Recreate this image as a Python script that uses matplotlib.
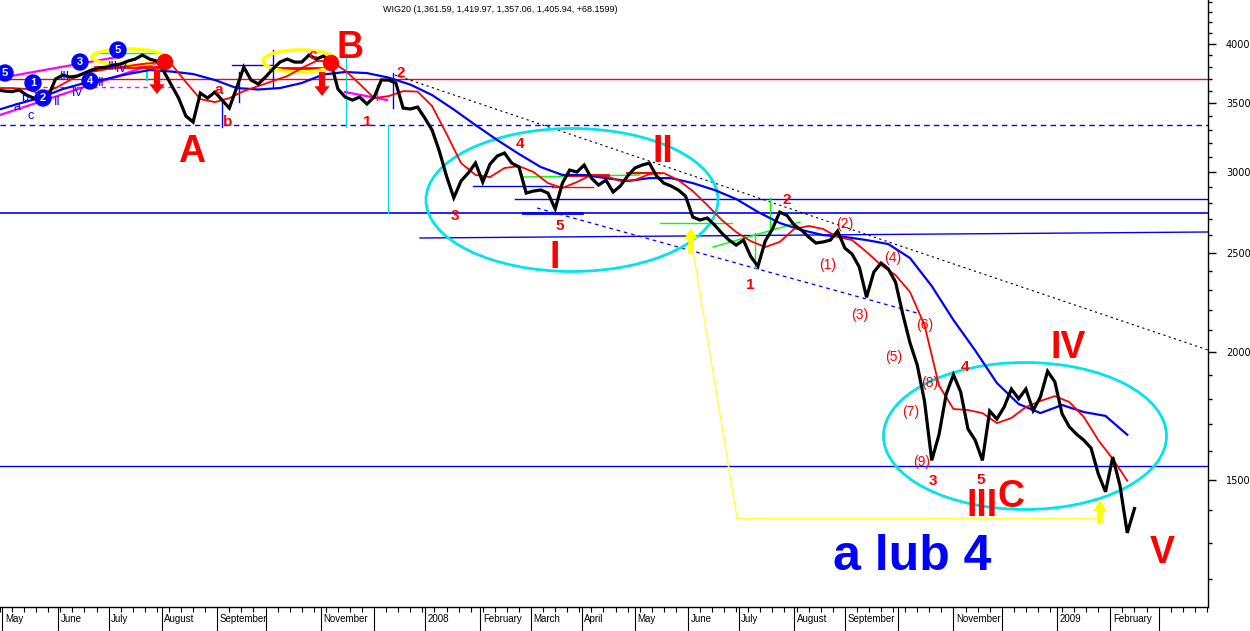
import matplotlib
matplotlib.use("Agg")
import matplotlib.pyplot as plt
import matplotlib.transforms as mtransforms
import numpy as np
import pandas as pd
from matplotlib.patches import Ellipse
from matplotlib.ticker import FixedLocator, FixedFormatter, NullFormatter

ORIGIN = "2007-04-27"   # x axis counts trading sessions from this day

# WIG20 close, every 3rd session from ORIGIN
close = [3607, 3598, 3594, 3607, 3566, 3542, 3534, 3558, 3697, 3730,
         3714, 3722, 3747, 3773, 3790, 3798, 3815, 3824, 3850, 3867,
         3902, 3867, 3850, 3756, 3647, 3542, 3402, 3356, 3582, 3542,
         3590, 3526, 3463, 3623, 3798, 3689, 3656, 3714, 3781, 3841,
         3867, 3841, 3841, 3902, 3867, 3893, 3841, 3615, 3550, 3526,
         3550, 3495, 3550, 3689, 3689, 3664, 3463, 3456, 3471, 3386,
         3296, 3144, 2970, 2830, 2939, 2992, 3060, 2932, 3053, 3109,
         3130, 3060, 3033, 2860, 2873, 2880, 2860, 2760, 2925, 3012,
         2999, 3046, 2958, 2912, 2945, 2867, 2906, 2972, 3026, 3046,
         3060, 2972, 2925, 2906, 2880, 2841, 2710, 2692, 2704, 2662,
         2614, 2573, 2544, 2573, 2480, 2425, 2567, 2638, 2740, 2720,
         2662, 2632, 2591, 2556, 2562, 2573, 2626, 2527, 2493, 2421,
         2262, 2394, 2443, 2411, 2341, 2178, 2041, 1942, 1791, 1567,
         1660, 1819, 1900, 1828, 1682, 1640, 1567, 1751, 1720, 1767,
         1840, 1800, 1840, 1753, 1807, 1915, 1870, 1740, 1690, 1662,
         1640, 1611, 1520, 1460, 1579, 1480, 1331, 1406]

# red (short) moving average, every 6th session
ma_red = [3623, 3623, 3615, 3574, 3623, 3689, 3747, 3768, 3790, 3807,
          3824, 3837, 3824, 3672, 3534, 3510, 3542, 3598, 3639, 3680,
          3722, 3790, 3850, 3850, 3768, 3656, 3542, 3558, 3598, 3594,
          3479, 3267, 3060, 2979, 2965, 3026, 3039, 2999, 2925, 2893,
          2932, 2979, 2972, 2939, 2945, 2985, 2992, 2945, 2873, 2784,
          2692, 2620, 2567, 2533, 2562, 2638, 2656, 2638, 2591, 2573,
          2505, 2432, 2378, 2289, 2125, 1855, 1759, 1755, 1743, 1704,
          1724, 1767, 1791, 1811, 1787, 1728, 1640, 1572, 1497]

# blue (long) moving average, every 9th session
ma_blue = [3448, 3499, 3546, 3615, 3664, 3697, 3739, 3773, 3760, 3739,
           3689, 3623, 3611, 3623, 3664, 3735, 3756, 3747, 3709, 3651,
           3566, 3452, 3333, 3223, 3123, 3033, 2979, 2979, 2958, 2939,
           2958, 2958, 2925, 2880, 2822, 2741, 2674, 2632, 2602, 2591,
           2573, 2550, 2471, 2320, 2149, 2007, 1865, 1779, 1743, 1775,
           1747, 1732, 1660]

# one label per month start (May 2007 .. Mar 2009), blank where the chart had no room
month_labels = ["May", "June", "July", "August", "September", "", "November", "",
                "2008", "February", "March", "April", "May", "June", "July",
                "August", "September", "", "November", "", "2009", "February", ""]

y_major = [1500, 2000, 2500, 3000, 3500, 4000]
y_minor = [v for v in range(1200, 4500, 100) if v not in y_major]

TITLE = "WIG20 (1,361.59, 1,419.97, 1,357.06, 1,405.94, +68.1599)"
FONT = "Liberation Sans"
CYAN = "#00e4ea"


def sessions(dates):
    return np.busday_count(np.datetime64(ORIGIN), np.asarray(dates, dtype="datetime64[D]"))


def every(n, step):
    return sessions(pd.bdate_range(ORIGIN, periods=n, freq=f"{step}B").values)


fig = plt.figure(figsize=(12.5, 6.31), dpi=100)
ax = fig.add_axes([0, 24 / 631, 1208 / 1250, 607 / 631])


# annotation layout, measured on the 1208x607 plot box of the original picture
def L(x, y):
    return x / 1208, 1 - y / 607


def txt(x, y, s, size=11, color="red", weight="bold"):
    ax.text(*L(x, y), s, transform=ax.transAxes, ha="center", va="center",
            fontsize=size, color=color, fontweight=weight, family=FONT, zorder=8)


def seg(p, q, color, lw=1.0, ls="-", z=2):
    (x0, y0), (x1, y1) = L(*p), L(*q)
    ax.plot([x0, x1], [y0, y1], transform=ax.transAxes, color=color, lw=lw, ls=ls, zorder=z)


def ell(cx, cy, w, h, color, lw=2.0):
    ax.add_patch(Ellipse(L(cx, cy), w / 1208, h / 607, transform=ax.transAxes,
                         fill=False, ec=color, lw=lw, zorder=4))


def dot(cx, cy, r, color):
    ax.add_patch(Ellipse(L(cx, cy), 2 * r / 1208, 2 * r / 607, transform=ax.transAxes,
                         fc=color, ec=color, zorder=7))


def arrow(x, y_tail, y_head, color, hw=1.1, tw=0.45, hl=0.7):
    ax.annotate("", xy=L(x, y_head), xytext=L(x, y_tail),
                xycoords="axes fraction", textcoords="axes fraction",
                arrowprops=dict(arrowstyle=f"simple,head_width={hw},head_length={hl},tail_width={tw}",
                                color=color, lw=0, shrinkA=0, shrinkB=0), zorder=7)


# --- price + moving averages ---
ax.set_yscale("log")
ax.plot(every(len(ma_blue), 9), ma_blue, color="#0000ff", lw=1.6, zorder=5)
ax.plot(every(len(ma_red), 6), ma_red, color="#ff0000", lw=1.3, zorder=5)
ax.plot(every(len(close), 3), close, color="black", lw=2.3, zorder=6,
        solid_joinstyle="miter")

# --- support / resistance levels ---
ax.axhline(3697, color="#ff0000", lw=1.0, zorder=2)
ax.axhline(3333, color="#0000ff", lw=1.0, ls=(0, (4, 3)), zorder=2)
ax.axhline(2820, xmin=515 / 1208, color="#0000ff", lw=1.0, zorder=2)
ax.axhline(2737, color="#0000ff", lw=1.2, zorder=2)
ax.axhline(1547, color="#0000ff", lw=1.0, zorder=2)
seg((420, 238), (1208, 232), "#0000ff", lw=1.0)
seg((473, 186), (553, 186), "#0000ff", lw=1.0)
seg((523, 213), (582, 213), "#0000ff", lw=2.0)

# trend lines
seg((395, 75), (1208, 350), "black", lw=0.8, ls=(0, (2, 3)))
seg((537, 208), (917, 313), "#0000ff", lw=0.9, ls=(0, (3, 3)))
seg((691, 238), (737, 518), "#ffff40", lw=1.0)
seg((737, 518), (1100, 518), "#ffff40", lw=1.0)
seg((346, 53), (346, 127), "#00e0e0", lw=1.0)
seg((388, 125), (388, 213), "#00e0e0", lw=1.0)
seg((147, 63), (147, 80), "#00e0e0", lw=1.5)

# early channel (magenta) and markers
seg((0, 78), (117, 57), "#ff00ff", lw=1.6)
seg((0, 115), (160, 62), "#ff00ff", lw=1.6)
seg((43, 87), (180, 87), "#ff00ff", lw=1.0, ls=(0, (3, 3)))
seg((345, 92), (387, 100), "#ff00ff", lw=1.6)
seg((377, 85), (377, 100), "#ff00ff", lw=1.0)
seg((97, 53), (157, 53), "#00ff00", lw=1.0)
seg((95, 67), (165, 67), "#ff0000", lw=2.0)
seg((270, 68), (327, 68), "#ff0000", lw=2.0)
seg((222, 100), (222, 127), "#0000ff", lw=1.0)
seg((239, 72), (239, 102), "#0000ff", lw=1.0)
seg((273, 50), (273, 87), "#0000ff", lw=1.0)
seg((232, 65), (272, 65), "#0000ff", lw=1.0)
seg((393, 73), (393, 108), "#0000ff", lw=1.0)

# mid-2008 helper lines
seg((523, 177), (640, 175), "#00ff00", lw=1.0)
seg((660, 223), (732, 223), "#00ff00", lw=1.0)
seg((713, 247), (800, 222), "#00ff00", lw=1.0)
seg((755, 233), (755, 268), "#00ff00", lw=1.0)
seg((770, 198), (770, 230), "#00ff00", lw=1.0)
seg((567, 175), (608, 175), "#ff0000", lw=2.0)
seg((552, 187), (593, 187), "#ff0000", lw=1.0)
seg((627, 173), (660, 173), "#ff0000", lw=1.5)

# ellipses
ell(572, 200, 292, 143, CYAN)
ell(1025, 436, 283, 147, CYAN)
ell(128, 57, 72, 16, "#ffff00", lw=2.5)
ell(300, 61, 74, 22, "#ffff00", lw=2.5)

# sell signals and arrows
dot(165, 62, 7.5, "#ff0000")
dot(331, 63, 7.5, "#ff0000")
arrow(157, 70, 94, "#ff0000")
arrow(322, 72, 96, "#ff0000")
arrow(691, 254, 228, "#ffff00", hw=1.0, tw=0.4, hl=0.8)
arrow(1100, 524, 500, "#ffff00", hw=1.0, tw=0.4, hl=0.8)

# blue wave counts (circled)
for cx, cy, s in [(5, 73, "5"), (33, 83, "1"), (43, 98, "2"), (80, 62, "3"),
                  (90, 81, "4"), (118, 50, "5")]:
    dot(cx, cy, 8, "#0000ff")
    txt(cx, cy, s, size=8, color="white")
for cx, cy, s in [(17, 107, "a"), (25, 98, "b"), (31, 116, "c"), (57, 102, "II"),
                  (65, 77, "III"), (78, 93, "IV"), (101, 83, "II"), (113, 67, "III"),
                  (122, 69, "IV")]:
    txt(cx, cy, s, size=9, color="#0000ff", weight="normal")

# red wave labels
for s, cx, cy in [("A", 192, 152), ("B", 350, 48), ("I", 555, 258), ("II", 663, 152),
                  ("III", 982, 506), ("C", 1011, 497), ("IV", 1068, 348), ("V", 1162, 553)]:
    txt(cx, cy, s, size=27)
for s, cx, cy in [("1", 367, 122), ("2", 401, 73), ("3", 455, 216), ("4", 520, 144),
                  ("5", 560, 226), ("1", 750, 285), ("2", 787, 200), ("3", 933, 481),
                  ("4", 965, 367), ("5", 981, 480), ("a", 219, 90), ("b", 228, 122),
                  ("c", 313, 55)]:
    txt(cx, cy, s, size=11)
for s, cx, cy in [("(1)", 828, 265), ("(2)", 845, 224), ("(3)", 860, 315), ("(4)", 893, 258),
                  ("(5)", 894, 357), ("(6)", 925, 325), ("(7)", 911, 412), ("(8)", 930, 383),
                  ("(9)", 922, 462)]:
    txt(cx, cy, s, size=10, weight="normal")
txt(912, 557, "a lub 4", size=36, color="#0000ff")

ax.text(*L(500, 10), TITLE, transform=ax.transAxes, ha="center", va="center",
        fontsize=6.5, family=FONT)

# --- axes ---
x_max = 501.45
ax.set_xlim(1.87, x_max)
ax.set_ylim(1126.5, 4417)

ax.yaxis.tick_right()
ax.yaxis.set_major_locator(FixedLocator(y_major))
ax.yaxis.set_major_formatter(FixedFormatter([str(v) for v in y_major]))
ax.yaxis.set_minor_locator(FixedLocator(y_minor))
ax.yaxis.set_minor_formatter(NullFormatter())
ax.tick_params(axis="y", which="major", length=6, width=1, pad=7, labelsize=7)
ax.tick_params(axis="y", which="minor", length=3, width=1)

months = np.arange("2007-05", "2009-04", dtype="datetime64[M]").astype("datetime64[D]")
month_x = sessions(np.busday_offset(months, 0, roll="forward"))
mondays = pd.date_range("2007-04-30", "2009-04-30", freq="W-MON").values
week_x = [x for x in sessions(mondays) if x <= x_max]
ax.set_xticks(month_x)
ax.set_xticklabels([])
ax.set_xticks(week_x, minor=True)
ax.tick_params(axis="x", which="major", length=17, width=0.8)
ax.tick_params(axis="x", which="minor", length=3.5, width=0.8)

blend = mtransforms.blended_transform_factory(ax.transData, ax.transAxes)
for x, lab in zip(month_x, month_labels):
    if lab:
        ax.text(x + 1.0, -0.012, lab, transform=blend, ha="left", va="top",
                fontsize=7, family=FONT)

for side in ("left", "top"):
    ax.spines[side].set_visible(False)
for side in ("right", "bottom"):
    ax.spines[side].set_linewidth(1.0)

fig.savefig("out.png", dpi=100)
